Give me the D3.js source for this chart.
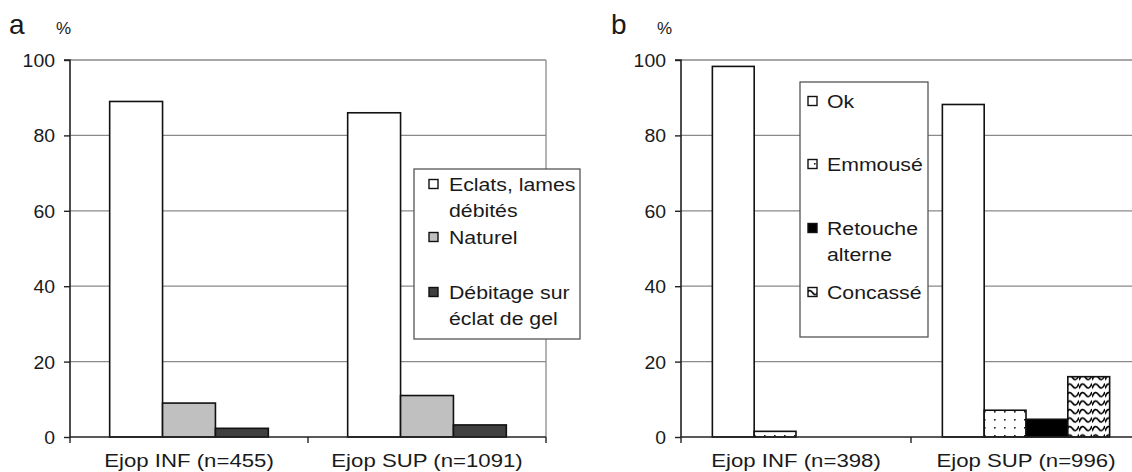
<!DOCTYPE html>
<html><head><meta charset="utf-8">
<script src="https://cdn.jsdelivr.net/npm/d3@7"></script>
<style>
html,body{margin:0;padding:0;background:#fff;}
text{font-family:"Liberation Sans",Arial,sans-serif;fill:#1a1a1a;}
</style></head>
<body><svg id="chart" width="1132" height="472"></svg>
<script>
// ---- data ----
const categoriesA = ["Ejop INF (n=455)", "Ejop SUP (n=1091)"];
const seriesA = ["Eclats, lames débités", "Naturel", "Débitage sur éclat de gel"];
const legendLinesA = [["Eclats, lames", "débités"], ["Naturel"], ["Débitage sur", "éclat de gel"]];
const eclats = [89, 86];
const naturel = [9, 11];
const debitageGel = [2.3, 3.2];

const categoriesB = ["Ejop INF (n=398)", "Ejop SUP (n=996)"];
const seriesB = ["Ok", "Emmousé", "Retouche alterne", "Concassé"];
const legendLinesB = [["Ok"], ["Emmousé"], ["Retouche", "alterne"], ["Concassé"]];
const ok = [98.3, 88.2];
const emmouse = [1.5, 7.1];
const retouche = [0, 4.7];
const concasse = [0, 16];

const yTicks = [0, 20, 40, 60, 80, 100];

const svg = d3.select("#chart");
const defs = svg.append("defs");
// dotted pattern (Emmousé)
const pd = defs.append("pattern").attr("id","dots").attr("patternUnits","userSpaceOnUse")
  .attr("width",10).attr("height",8);
pd.append("rect").attr("width",10).attr("height",8).attr("fill","#fff");
pd.append("rect").attr("x",4).attr("y",3).attr("width",1.6).attr("height",1.6).attr("fill","#222");
// wave pattern (Concassé)
const pw = defs.append("pattern").attr("id","wave").attr("patternUnits","userSpaceOnUse")
  .attr("width",13).attr("height",8.5);
pw.append("rect").attr("width",13).attr("height",8.5).attr("fill","#fff");
pw.append("path").attr("d","M0,6 C2,0.5 4.5,0.5 6.5,3.5 C8.5,6.5 11,6.5 13,1")
  .attr("fill","none").attr("stroke","#000").attr("stroke-width",1.7);

function txt(g, x, y, s, size, anchor, sx){
  const t = g.append("text").attr("transform",`translate(${x},${y}) scale(${sx||1.1},1)`)
    .attr("font-size",size).attr("text-anchor",anchor||"start").text(s);
  return t;
}

function panel(opt){
  const {x0,x1,yTop,yBot,cats,series,values,fills,legend,letter,letterX,pctX} = opt;
  const g = svg.append("g");
  const y = d3.scaleLinear().domain([0,100]).range([yBot,yTop]);
  const x = d3.scaleBand().domain(cats).range([x0,x1]).paddingInner(0).paddingOuter(0);
  // Excel-like: band = (n + 1.5) bar widths, 0.75 bar gap each side
  const w = x.bandwidth()/(series.length+1.5);
  // gridlines
  g.append("g").selectAll("line").data(yTicks.filter(d=>d>0)).join("line")
    .attr("x1",x0).attr("x2",x1).attr("y1",d=>y(d)).attr("y2",d=>y(d))
    .attr("stroke","#8a8a8a").attr("stroke-width",1.3);
  g.append("line").attr("x1",x1).attr("x2",x1).attr("y1",y(100)).attr("y2",y(0))
    .attr("stroke","#8a8a8a").attr("stroke-width",1.3);
  // bars
  series.forEach((s,si)=>{
    g.append("g").selectAll("rect").data(values[si]).join("rect")
      .attr("x",(d,i)=>x(cats[i]) + 0.75*w + si*w)
      .attr("width",w)
      .attr("y",d=>y(d)).attr("height",d=>y(0)-y(d))
      .attr("fill",fills[si]).attr("stroke","#111").attr("stroke-width",d=>d>0?1.6:0);
  });
  // y axis
  const ya = g.append("g").attr("transform",`translate(${x0},0)`)
    .call(d3.axisLeft(y).tickValues(yTicks).tickSize(6).tickPadding(9));
  ya.select(".domain").attr("stroke","#222").attr("stroke-width",1.6).attr("d",`M-6,${yTop}H0V${yBot}`);
  ya.selectAll(".tick line").attr("stroke","#222").attr("stroke-width",1.4);
  ya.selectAll(".tick text").remove();
  ya.selectAll(".tick").each(function(d){
    txt(d3.select(this), -15, 6.5, d, 18, "end", 1.08);
  });
  // x axis
  const xa = g.append("g").attr("transform",`translate(0,${yBot})`);
  xa.append("line").attr("x1",x0).attr("x2",x1).attr("y1",0).attr("y2",0)
    .attr("stroke","#222").attr("stroke-width",1.6);
  xa.selectAll("line.t").data([x0, ...cats.map(c=>x(c)+x.bandwidth())]).join("line")
    .attr("class","t").attr("x1",d=>d).attr("x2",d=>d).attr("y1",0).attr("y2",6)
    .attr("stroke","#222").attr("stroke-width",1.4);
  cats.forEach(c=>{
    txt(xa, x(c)+x.bandwidth()/2, 30, c, 18.5, "middle", 1.2);
  });
  // letter & %
  txt(g, letterX, 34, letter, 28, "start", 1.0);
  txt(g, pctX, 34, "%", 17, "start", 1.0);
  // legend
  const L = legend;
  const lg = g.append("g");
  lg.append("rect").attr("x",L.x).attr("y",L.y).attr("width",L.w).attr("height",L.h)
    .attr("fill","#fff").attr("stroke","#555").attr("stroke-width",1.3);
  L.rows.forEach((r,i)=>{
    lg.append("rect").attr("x",L.mx).attr("y",L.ys[i]-4.5).attr("width",9).attr("height",9)
      .attr("fill",fills[i]).attr("stroke","#111").attr("stroke-width",1.4);
    r.forEach((line,j)=>{
      txt(lg, L.tx, L.ys[i]+6.5+j*26, line, 18.5, "start", 1.15);
    });
  });
}

panel({x0:70,x1:546,yTop:60,yBot:437,cats:categoriesA,series:seriesA,
  values:[eclats,naturel,debitageGel],fills:["#fff","#c0c0c0","#404040"],
  letter:"a",letterX:9,pctX:56,
  legend:{x:414,y:169,w:166,h:170,mx:429,tx:449,rows:legendLinesA,ys:[184,237,292]}});
panel({x0:681,x1:1141,yTop:60,yBot:437,cats:categoriesB,series:seriesB,
  values:[ok,emmouse,retouche,concasse],fills:["#fff","url(#dots)","#000","url(#wave)"],
  letter:"b",letterX:611,pctX:657,
  legend:{x:800,y:82,w:128,h:255,mx:808,tx:827,rows:legendLinesB,ys:[101,164,228,292]}});
</script></body></html>
